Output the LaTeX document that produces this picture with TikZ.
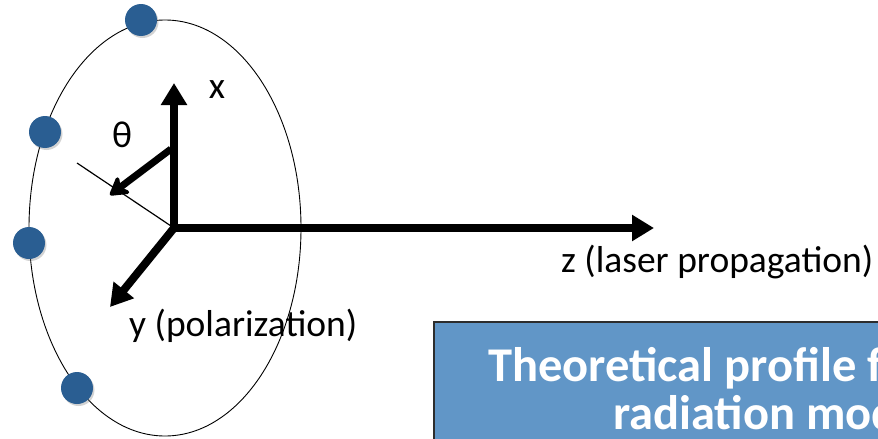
\documentclass[tikz,border=0pt]{standalone}
\usepackage{fontspec}
\setmainfont{Carlito}
\usetikzlibrary{arrows.meta,shadows,positioning}
\definecolor{beadblue}{RGB}{42,94,146}
\definecolor{boxblue}{RGB}{97,150,199}
\definecolor{boxedge}{RGB}{45,45,45}
\tikzset{
  bead/.style={circle, fill=beadblue, minimum size=32pt, inner sep=0pt,
               drop shadow={opacity=0.35, shadow xshift=1.5pt, shadow yshift=-2pt}},
  axis/.style={line width=8pt, -{Triangle[width=25pt,length=22pt]}},
  lbl/.style={font=\fontsize{37.5}{45}\selectfont, inner sep=0pt},
  boxtext/.style={font=\fontsize{48.5}{58}\selectfont\bfseries, text=white, inner sep=0pt}
}
\newcommand{\orbit}{\draw[line width=0.9pt] (165,228) ellipse [x radius=136, y radius=208];}

\begin{document}
\begin{tikzpicture}[x=1pt, y=-1pt]
					\useasboundingbox (0,0) rectangle (878,439);
					\clip (0,0) rectangle (878,439);

					% ring of charges
					\orbit
					\node[bead] (b1) at (141,20) {};
					\node[bead] (b2) at (45,132) {};
					\node[bead] (b3) at (29,243) {};
					\node[bead] (b4) at (77,388) {};

					% axes
					\coordinate (O) at (174,228);
					\coordinate (xtip) at (174,83);
					\coordinate (ztip) at (654,228);
					\coordinate (ytip) at (110,307);
					\coordinate (tend) at (77,163);
					\coordinate (tstart) at (171,149);
					\coordinate (ttip) at (110,195);

					\draw[line width=1.2pt] (O) -- (tend);
					\draw[axis] (O) -- (xtip);
					\draw[axis] (O) -- (ztip);
					\draw[axis] (O) -- (ytip);
					\draw[line width=7pt, -{Stealth[length=22pt,width=26pt,inset=7pt,round]}] (tstart) -- (ttip);

					% labels
					\node[lbl] (xlab) at (217,90) {x};
					\node[lbl] (tlab) at (122,135) {θ};
					\node[lbl, anchor=base west] (ylab) at (129,336) {y (polarization)};
					\node[lbl, anchor=base west] (zlab) at (561,272) {z (laser propagation)};

					% model box
					\draw[fill=boxblue, draw=boxedge, line width=1.5pt] (434,322) rectangle (895,455);
					\node[boxtext, anchor=base west] (title1) at (488,381) {Theoretical profile f};
					\node[boxtext, anchor=base west] (title2) at (613,429) {radiation mod};

\end{tikzpicture}
\end{document}
